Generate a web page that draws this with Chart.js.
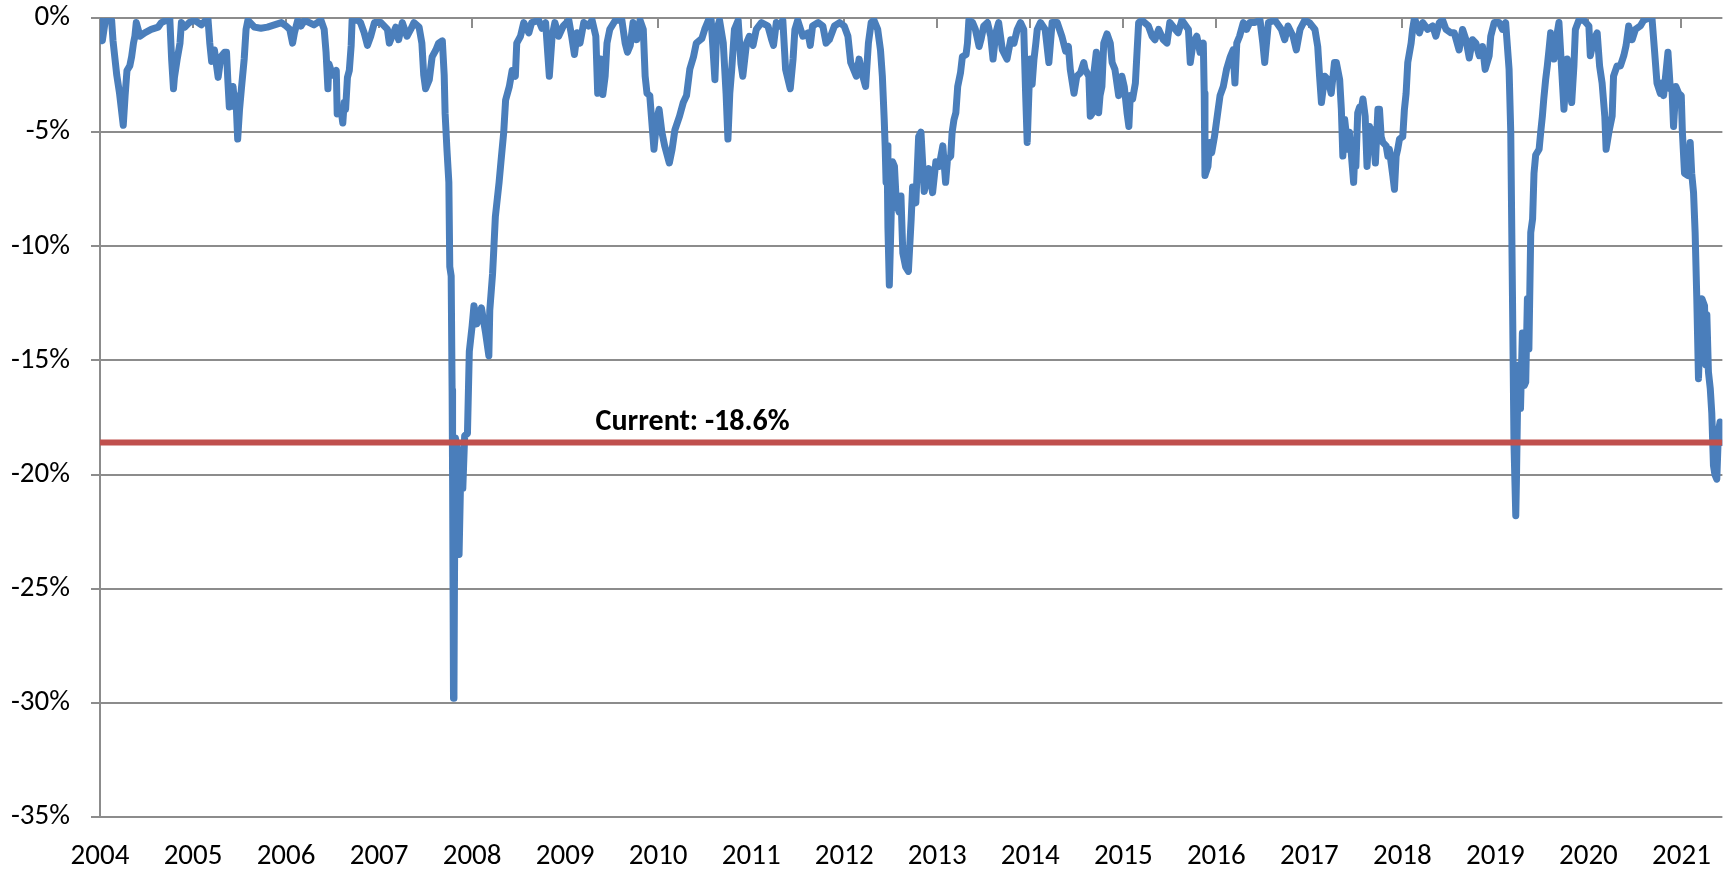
<!DOCTYPE html>
<html>
<head>
<meta charset="utf-8">
<title>Drawdown</title>
<script src="https://cdn.jsdelivr.net/npm/chart.js@4/dist/chart.umd.min.js"></script>
<style>
  html, body { margin: 0; padding: 0; background: #fff; }
  #wrap { width: 1733px; height: 873px; }
</style>
</head>
<body>
<div id="wrap"><canvas id="ddChart" width="1733" height="873"></canvas></div>
<script>
"use strict";

// dates as decimal years
var dates = [
  2004.000, 2004.025, 2004.054, 2004.09, 2004.125, 2004.14, 2004.18, 2004.21, 2004.25, 2004.27,
  2004.29, 2004.32, 2004.34, 2004.36, 2004.375, 2004.39, 2004.43, 2004.48, 2004.55, 2004.625,
  2004.66, 2004.71, 2004.75, 2004.77, 2004.79, 2004.80, 2004.83, 2004.86, 2004.875, 2004.91,
  2004.96, 2005.02, 2005.09, 2005.16, 2005.18, 2005.20, 2005.23, 2005.27, 2005.30, 2005.34,
  2005.36, 2005.375, 2005.39, 2005.43, 2005.45, 2005.46, 2005.48, 2005.50, 2005.52, 2005.55,
  2005.57, 2005.59, 2005.66, 2005.73, 2005.80, 2005.875, 2005.95, 2006.00, 2006.04, 2006.07,
  2006.09, 2006.125, 2006.16, 2006.20, 2006.25, 2006.30, 2006.375, 2006.41, 2006.43, 2006.45,
  2006.46, 2006.50, 2006.54, 2006.55, 2006.59, 2006.61, 2006.625, 2006.64, 2006.66, 2006.68,
  2006.70, 2006.71, 2006.77, 2006.80, 2006.84, 2006.875, 2006.91, 2006.95, 2007.02, 2007.09,
  2007.11, 2007.14, 2007.18, 2007.21, 2007.25, 2007.30, 2007.34, 2007.375, 2007.43, 2007.46,
  2007.48, 2007.50, 2007.54, 2007.57, 2007.61, 2007.64, 2007.68, 2007.70, 2007.71, 2007.73,
  2007.75, 2007.76, 2007.775, 2007.785, 2007.79, 2007.80, 2007.805, 2007.81, 2007.82, 2007.84,
  2007.86, 2007.88, 2007.90, 2007.92, 2007.95, 2007.97, 2008.00, 2008.02, 2008.05, 2008.07,
  2008.10, 2008.145, 2008.18, 2008.19, 2008.22, 2008.23, 2008.25, 2008.29, 2008.31, 2008.34,
  2008.36, 2008.40, 2008.43, 2008.465, 2008.48, 2008.52, 2008.555, 2008.61, 2008.64, 2008.715,
  2008.75, 2008.79, 2008.83, 2008.86, 2008.89, 2008.93, 2008.98, 2009.04, 2009.07, 2009.10,
  2009.13, 2009.16, 2009.20, 2009.25, 2009.29, 2009.33, 2009.35, 2009.38, 2009.405, 2009.43,
  2009.45, 2009.48, 2009.54, 2009.61, 2009.645, 2009.67, 2009.70, 2009.73, 2009.77, 2009.805,
  2009.84, 2009.86, 2009.88, 2009.91, 2009.93, 2009.955, 2009.985, 2010.01, 2010.04, 2010.07,
  2010.12, 2010.15, 2010.18, 2010.23, 2010.27, 2010.305, 2010.34, 2010.38, 2010.41, 2010.47,
  2010.50, 2010.54, 2010.57, 2010.61, 2010.63, 2010.66, 2010.70, 2010.73, 2010.75, 2010.77,
  2010.79, 2010.82, 2010.86, 2010.89, 2010.91, 2010.95, 2010.98, 2011.02, 2011.055, 2011.11,
  2011.18, 2011.22, 2011.24, 2011.27, 2011.305, 2011.34, 2011.37, 2011.42, 2011.45, 2011.47,
  2011.50, 2011.555, 2011.61, 2011.635, 2011.66, 2011.72, 2011.77, 2011.805, 2011.84, 2011.895,
  2011.95, 2012.00, 2012.04, 2012.07, 2012.13, 2012.16, 2012.20, 2012.23, 2012.26, 2012.29,
  2012.32, 2012.36, 2012.39, 2012.41, 2012.43, 2012.44, 2012.45, 2012.46, 2012.47, 2012.485,
  2012.50, 2012.52, 2012.54, 2012.56, 2012.59, 2012.61, 2012.63, 2012.66, 2012.69, 2012.72,
  2012.735, 2012.77, 2012.80, 2012.825, 2012.86, 2012.91, 2012.95, 2012.985, 2013.02, 2013.06,
  2013.09, 2013.11, 2013.145, 2013.16, 2013.18, 2013.20, 2013.22, 2013.25, 2013.27, 2013.31,
  2013.325, 2013.34, 2013.38, 2013.41, 2013.45, 2013.47, 2013.50, 2013.54, 2013.575, 2013.60,
  2013.63, 2013.66, 2013.70, 2013.75, 2013.79, 2013.825, 2013.86, 2013.895, 2013.93, 2013.95,
  2013.967, 2013.985, 2014.00, 2014.02, 2014.04, 2014.06, 2014.075, 2014.11, 2014.16, 2014.20,
  2014.235, 2014.29, 2014.34, 2014.38, 2014.41, 2014.43, 2014.47, 2014.50, 2014.54, 2014.575,
  2014.59, 2014.63, 2014.645, 2014.67, 2014.68, 2014.71, 2014.735, 2014.75, 2014.77, 2014.79,
  2014.825, 2014.86, 2014.88, 2014.91, 2014.95, 2014.985, 2015.01, 2015.04, 2015.06, 2015.075,
  2015.10, 2015.13, 2015.145, 2015.165, 2015.20, 2015.27, 2015.31, 2015.34, 2015.38, 2015.43,
  2015.47, 2015.50, 2015.56, 2015.59, 2015.63, 2015.70, 2015.72, 2015.75, 2015.79, 2015.825,
  2015.86, 2015.87, 2015.878, 2015.91, 2015.93, 2015.95, 2015.98, 2016.02, 2016.04, 2016.075,
  2016.11, 2016.15, 2016.18, 2016.20, 2016.22, 2016.25, 2016.29, 2016.325, 2016.36, 2016.41,
  2016.47, 2016.50, 2016.52, 2016.56, 2016.63, 2016.70, 2016.735, 2016.77, 2016.825, 2016.86,
  2016.90, 2016.95, 2017.00, 2017.06, 2017.09, 2017.11, 2017.13, 2017.165, 2017.20, 2017.235,
  2017.27, 2017.29, 2017.326, 2017.344, 2017.36, 2017.38, 2017.415, 2017.43, 2017.45, 2017.476,
  2017.486, 2017.50, 2017.52, 2017.54, 2017.558, 2017.576, 2017.60, 2017.62, 2017.647, 2017.665,
  2017.683, 2017.71, 2017.737, 2017.754, 2017.772, 2017.79, 2017.826, 2017.844, 2017.86, 2017.897,
  2017.915, 2017.933, 2017.95, 2017.969, 2018.004, 2018.022, 2018.04, 2018.058, 2018.094, 2018.11,
  2018.13, 2018.183, 2018.219, 2018.272, 2018.326, 2018.36, 2018.397, 2018.433, 2018.469, 2018.522,
  2018.558, 2018.61, 2018.647, 2018.683, 2018.719, 2018.754, 2018.79, 2018.826, 2018.862, 2018.89,
  2018.933, 2018.95, 2018.987, 2019.04, 2019.076, 2019.11, 2019.147, 2019.165, 2019.183, 2019.20,
  2019.219, 2019.226, 2019.237, 2019.255, 2019.27, 2019.29, 2019.31, 2019.326, 2019.344, 2019.36,
  2019.38, 2019.40, 2019.415, 2019.433, 2019.47, 2019.487, 2019.505, 2019.52, 2019.54, 2019.558,
  2019.576, 2019.594, 2019.63, 2019.665, 2019.683, 2019.71, 2019.737, 2019.755, 2019.772, 2019.79,
  2019.82, 2019.844, 2019.86, 2019.897, 2019.95, 2020.005, 2020.02, 2020.058, 2020.094, 2020.12,
  2020.147, 2020.176, 2020.19, 2020.22, 2020.255, 2020.27, 2020.308, 2020.344, 2020.38, 2020.405,
  2020.433, 2020.47, 2020.505, 2020.558, 2020.594, 2020.647, 2020.683, 2020.71, 2020.737, 2020.773,
  2020.79, 2020.808, 2020.833, 2020.855, 2020.88, 2020.897, 2020.915, 2020.94, 2020.97, 2020.998,
  2021.01, 2021.033, 2021.07, 2021.094, 2021.11, 2021.13, 2021.147, 2021.165, 2021.183, 2021.20,
  2021.22, 2021.248, 2021.262, 2021.273, 2021.29, 2021.31, 2021.326, 2021.344, 2021.36, 2021.38,
  2021.398, 2021.415, 2021.43, 2021.44
];

// drawdown in percent, one per date
var drawdown = [
  0, -1.0, -0.2, 0, -0.1, -1.0, -2.5, -3.3, -4.7, -3.4,
  -2.3, -2.1, -1.7, -1.1, -0.8, -0.2, -0.8, -0.65, -0.5, -0.4,
  -0.2, -0.1, 0, -1.8, -3.1, -2.6, -1.8, -1.1, -0.2, -0.4,
  -0.2, -0.1, -0.3, 0, -1.1, -1.9, -1.4, -2.6, -1.7, -1.5,
  -1.5, -2.8, -3.9, -3.0, -3.9, -3.4, -5.3, -4.0, -3.1, -1.8,
  -0.5, -0.1, -0.4, -0.45, -0.4, -0.3, -0.2, -0.35, -0.5, -1.1,
  -0.65, -0.1, -0.35, -0.1, -0.2, -0.3, -0.1, -0.5, -1.5, -3.1,
  -2.0, -2.5, -2.3, -4.2, -4.0, -4.6, -3.7, -4.0, -2.6, -2.3,
  -1.2, -0.1, -0.1, -0.2, -0.65, -1.2, -0.8, -0.2, -0.2, -0.5,
  -1.1, -0.8, -0.4, -0.95, -0.2, -0.8, -0.5, -0.2, -0.4, -1.1,
  -2.5, -3.1, -2.7, -1.7, -1.4, -1.1, -1.0, -2.5, -4.2, -5.8,
  -7.2, -10.9, -11.3, -16.3, -20.0, -29.8, -29.5, -25.0, -18.4, -18.8,
  -23.5, -19.5, -20.6, -18.3, -18.2, -14.6, -13.5, -12.6, -13.4, -13.2,
  -12.7, -13.8, -14.8, -12.8, -11.2, -10.4, -8.7, -7.2, -6.3, -5.0,
  -3.6, -3.0, -2.3, -2.55, -1.1, -0.8, -0.2, -0.65, -0.2, -0.1,
  -0.45, -0.2, -2.55, -0.8, -0.2, -0.8, -0.35, -0.1, -0.8, -1.6,
  -0.65, -1.1, -0.2, -0.35, -0.1, -0.8, -3.3, -1.8, -3.35, -2.55,
  -1.1, -0.5, -0.1, -0.1, -1.1, -1.5, -1.2, -0.2, -0.95, -0.1,
  -0.5, -2.55, -3.3, -3.4, -4.45, -5.75, -4.45, -4.0, -5.0, -5.6,
  -6.35, -5.75, -4.9, -4.3, -3.7, -3.4, -2.25, -1.7, -1.1, -0.9,
  -0.5, -0.1, -0.1, -2.7, -0.5, -0.1, -1.1, -3.3, -5.3, -3.3,
  -2.3, -0.5, -0.1, -2.0, -2.55, -1.1, -0.8, -1.2, -0.5, -0.2,
  -0.35, -0.95, -1.2, -0.2, -0.35, -0.1, -2.25, -3.1, -1.8, -0.5,
  -0.1, -0.8, -0.65, -1.2, -0.35, -0.2, -0.35, -1.1, -0.95, -0.35,
  -0.2, -0.35, -0.8, -1.95, -2.55, -1.8, -2.55, -3.0, -1.1, -0.2,
  -0.1, -0.5, -1.4, -2.55, -4.45, -5.6, -7.2, -5.6, -9.2, -11.7,
  -9.4, -6.3, -6.5, -8.1, -8.5, -7.8, -10.3, -10.9, -11.1, -8.8,
  -7.4, -8.1, -5.2, -5.0, -7.6, -6.6, -7.65, -6.3, -6.5, -5.6,
  -7.2, -6.2, -6.05, -5.0, -4.45, -4.15, -3.0, -2.4, -1.7, -1.6,
  -1.1, -0.1, -0.2, -0.5, -1.25, -0.95, -0.35, -0.2, -0.8, -1.8,
  -0.65, -0.2, -1.4, -1.8, -0.95, -1.1, -0.5, -0.2, -0.5, -3.3,
  -5.45, -3.3, -1.8, -2.9, -1.8, -1.1, -0.5, -0.2, -0.5, -1.95,
  -0.2, -0.2, -0.8, -1.45, -1.25, -2.25, -3.3, -2.55, -2.4, -1.95,
  -2.25, -2.55, -4.3, -4.15, -2.55, -1.5, -4.15, -3.4, -3.0, -1.1,
  -0.7, -1.1, -1.95, -2.25, -3.4, -2.55, -3.0, -4.15, -4.75, -3.4,
  -3.55, -2.85, -1.7, -0.2, -0.1, -0.35, -0.8, -0.95, -0.5, -0.95,
  -1.1, -0.2, -0.5, -0.65, -0.1, -0.5, -1.95, -1.1, -0.8, -1.5,
  -1.1, -3.3, -6.9, -6.5, -5.45, -5.9, -5.2, -4.0, -3.4, -3.0,
  -2.25, -1.7, -1.4, -2.85, -1.1, -0.8, -0.2, -0.5, -0.2, -0.2,
  -0.1, -1.1, -1.95, -0.2, -0.1, -0.5, -0.95, -0.35, -0.8, -1.4,
  -0.5, -0.1, -0.2, -0.5, -1.25, -2.55, -3.7, -2.55, -2.7, -3.3,
  -1.95, -1.95, -2.7, -4.0, -6.05, -4.45, -5.75, -5.0, -5.9, -7.2,
  -6.2, -6.5, -4.15, -3.9, -4.0, -3.55, -4.3, -6.5, -4.75, -5.75,
  -4.9, -6.35, -4.0, -4.0, -5.2, -5.45, -5.6, -6.05, -5.75, -6.9,
  -7.5, -6.05, -5.75, -5.3, -5.2, -4.0, -3.3, -1.95, -1.1, -0.5,
  0, -0.65, -0.2, -0.5, -0.35, -0.8, -0.2, -0.1, -0.5, -0.65,
  -0.65, -1.4, -0.5, -0.95, -1.75, -0.95, -1.1, -1.65, -1.25, -2.25,
  -1.65, -0.8, -0.2, -0.2, -0.5, -0.2, -2.25, -5.0, -12.0, -18.7,
  -21.8, -20.3, -17.3, -15.2, -17.1, -13.8, -16.1, -15.95, -12.3, -14.5,
  -9.4, -8.8, -6.8, -6.0, -5.75, -5.0, -4.3, -3.55, -2.7, -2.1,
  -1.4, -0.65, -1.8, -0.65, -0.2, -2.1, -4.0, -2.85, -1.8, -2.7,
  -3.7, -2.1, -0.5, -0.1, -0.1, -0.35, -1.65, -0.95, -0.65, -2.1,
  -2.85, -4.3, -5.75, -5.0, -4.3, -2.55, -2.1, -2.1, -1.65, -1.2,
  -0.35, -0.95, -0.5, -0.35, -0.1, 0, 0, -1.4, -2.85, -3.3,
  -2.85, -3.4, -2.4, -1.5, -3.1, -3.0, -4.75, -3.0, -3.3, -3.4,
  -5.0, -6.8, -6.9, -5.45, -6.8, -7.65, -9.4, -12.3, -15.8, -13.8,
  -12.3, -12.6, -15.2, -13.0, -15.5, -16.25, -17.3, -19.6, -20.0, -20.2,
  -18.1, -17.7, -18.0, -18.6
];

var yearTicks = [2004, 2005, 2006, 2007, 2008, 2009, 2010, 2011, 2012, 2013,
  2014, 2015, 2016, 2017, 2018, 2019, 2020, 2021];
var currentValue = -18.6;
var currentLabel = "Current: -18.6%";

var gridColor = "#8c8c8c";
var fontName = "Carlito, Calibri, 'Liberation Sans', sans-serif";

var points = dates.map(function (d, i) { return { x: d, y: drawdown[i] }; });
var lastDate = dates[dates.length - 1];

// small tick marks hanging under the 0% line, and the "Current" text
var extras = {
  id: "extras",
  beforeDatasetsDraw: function (chart) {
    var ctx = chart.ctx;
    var xs = chart.scales.x;
    var top = chart.chartArea.top;
    ctx.save();
    ctx.strokeStyle = gridColor;
    ctx.lineWidth = 2;
    yearTicks.forEach(function (yr) {
      var px = Math.round(xs.getPixelForValue(yr));
      ctx.beginPath();
      ctx.moveTo(px, top);
      ctx.lineTo(px, top + 10);
      ctx.stroke();
    });
    ctx.restore();
  },
  afterDatasetsDraw: function (chart) {
    var ctx = chart.ctx;
    var xs = chart.scales.x;
    var ys = chart.scales.y;
    ctx.save();
    ctx.font = "bold 30px " + fontName;
    ctx.fillStyle = "#000";
    ctx.textAlign = "center";
    ctx.textBaseline = "alphabetic";
    ctx.fillText(currentLabel, xs.getPixelForValue(2010.37), ys.getPixelForValue(currentValue) - 13);
    ctx.restore();
  }
};

var ctx = document.getElementById("ddChart").getContext("2d");
var myChart = new Chart(ctx, {
  type: "line",
  data: {
    datasets: [
      {
        label: "Current",
        data: [{ x: dates[0], y: currentValue }, { x: lastDate, y: currentValue }],
        borderColor: "#c0504d",
        borderWidth: 6,
        pointRadius: 0,
        order: 0
      },
      {
        label: "Drawdown",
        data: points,
        borderColor: "#4a7ebb",
        borderWidth: 7,
        borderJoinStyle: "round",
        borderCapStyle: "round",
        pointRadius: 0,
        tension: 0,
        order: 1
      }
    ]
  },
  options: {
    responsive: false,
    animation: false,
    layout: { padding: { top: 18, right: 6, left: 0, bottom: 0 } },
    plugins: {
      legend: { display: false },
      tooltip: { enabled: false }
    },
    scales: {
      x: {
        type: "linear",
        min: 2004,
        max: lastDate,
        afterBuildTicks: function (scale) {
          scale.ticks = yearTicks.map(function (v) { return { value: v }; });
        },
        afterFit: function (scale) { scale.height = 56; },
        grid: { display: true, drawOnChartArea: false, drawTicks: false },
        border: { display: false },
        ticks: {
          autoSkip: false,
          maxRotation: 0,
          padding: 22,
          color: "#000",
          font: { family: fontName, size: 29 },
          callback: function (v) { return String(v); }
        }
      },
      y: {
        min: -35,
        max: 0,
        afterFit: function (scale) {
          scale.width = 100;
          // label padding is already covered by the layout padding
          scale.paddingTop = 0;
          scale.paddingBottom = 0;
        },
        grid: { color: gridColor, lineWidth: 2, tickLength: 9 },
        border: { display: true, color: gridColor, width: 2 },
        ticks: {
          stepSize: 5,
          padding: 21,
          color: "#000",
          font: { family: fontName, size: 29 },
          callback: function (v) { return v + "%"; }
        }
      }
    }
  },
  plugins: [extras]
});
</script>
</body>
</html>
